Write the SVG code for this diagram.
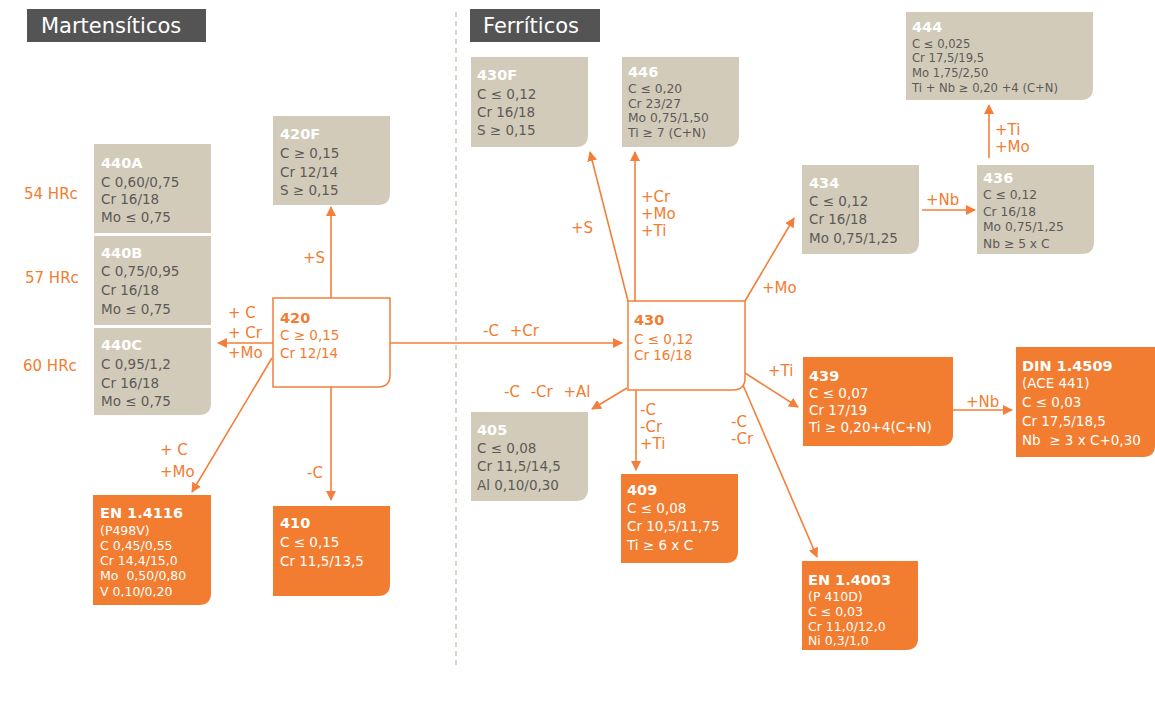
<svg xmlns="http://www.w3.org/2000/svg" width="1155" height="703" viewBox="0 0 1155 703">
<style>
text{font-family:"DejaVu Sans","Liberation Sans",sans-serif}
.hdr{fill:#545454}
.hdrt{fill:#ffffff;font-size:21px}
.bg{fill:#d3cbba}
.or{fill:#f27c30}
.wb{fill:#ffffff;stroke:#f47f3a;stroke-width:1.5}
.tg{fill:#ffffff;font-size:14.5px;font-weight:bold}
.bt{fill:#5c5a58;font-size:13.5px}
.bs{fill:#5c5a58;font-size:12.3px}
.bx{fill:#5c5a58;font-size:11.6px}
.ow{fill:#ffffff;font-size:13.5px}
.ows{fill:#ffffff;font-size:12.5px}
.ot{fill:#f27c30;font-size:14.5px;font-weight:bold}
.obt{fill:#f27c30;font-size:13.5px}
.lbl{fill:#f27c30;font-size:15px}
.cn line{stroke:#f47f3a;stroke-width:1.6;fill:none}
.arr{marker-end:url(#ah)}
</style>
<defs>
<marker id="ah" viewBox="0 0 10 10" refX="9" refY="5" markerWidth="10" markerHeight="10" markerUnits="userSpaceOnUse" orient="auto">
<path d="M0,0 L10,5 L0,10 Z" fill="#f47f3a"/>
</marker>
</defs>
<rect width="1155" height="703" fill="#ffffff"/>

<g id="titles">
<rect class="hdr" x="27" y="9" width="179" height="33"/>
<text class="hdrt" x="41" y="33">Martensíticos</text>
<rect class="hdr" x="470" y="9" width="130" height="33"/>
<text class="hdrt" x="483" y="33">Ferríticos</text>
</g>
<line x1="456" y1="12" x2="456" y2="668" stroke="#c8bfb2" stroke-width="1.3" stroke-dasharray="5,4"/>

<g id="hrc">
<text class="lbl" x="24" y="199">54 HRc</text>
<text class="lbl" x="25" y="283">57 HRc</text>
<text class="lbl" x="23" y="371">60 HRc</text>
</g>

<g class="cn" id="connectors">
<line class="arr" x1="331" y1="298" x2="331" y2="207"/>
<line class="arr" x1="273" y1="343" x2="218" y2="343"/>
<line class="arr" x1="272" y1="358" x2="192" y2="492"/>
<line class="arr" x1="331" y1="387" x2="331" y2="500"/>
<line class="arr" x1="390" y1="343" x2="622" y2="343"/>
<line class="arr" x1="628" y1="301" x2="590" y2="152"/>
<line class="arr" x1="635" y1="301" x2="635" y2="152"/>
<line class="arr" x1="745" y1="301" x2="794" y2="218"/>
<line class="arr" x1="922" y1="210" x2="975" y2="210"/>
<line class="arr" x1="989" y1="158" x2="989" y2="105"/>
<line class="arr" x1="627" y1="388" x2="592" y2="409"/>
<line class="arr" x1="636" y1="390" x2="636" y2="470"/>
<line class="arr" x1="745" y1="373" x2="798" y2="407"/>
<line class="arr" x1="743" y1="385" x2="817" y2="557"/>
<line class="arr" x1="953" y1="410" x2="1012" y2="410"/>
</g>

<g id="conn-labels">
<text class="lbl" x="303" y="263">+S</text>
<text class="lbl" x="228" y="318">+ C</text>
<text class="lbl" x="228" y="338">+ Cr</text>
<text class="lbl" x="228" y="358">+Mo</text>
<text class="lbl" x="160" y="455">+ C</text>
<text class="lbl" x="160" y="477">+Mo</text>
<text class="lbl" x="307" y="478">-C</text>
<text class="lbl" x="483" y="336" word-spacing="6">-C +Cr</text>
<text class="lbl" x="571" y="233">+S</text>
<text class="lbl" x="641" y="202">+Cr</text>
<text class="lbl" x="641" y="219">+Mo</text>
<text class="lbl" x="641" y="236">+Ti</text>
<text class="lbl" x="762" y="293">+Mo</text>
<text class="lbl" x="926" y="205">+Nb</text>
<text class="lbl" x="995" y="135">+Ti</text>
<text class="lbl" x="995" y="152">+Mo</text>
<text class="lbl" x="504" y="397" word-spacing="6">-C -Cr +Al</text>
<text class="lbl" x="640" y="415">-C</text>
<text class="lbl" x="640" y="432">-Cr</text>
<text class="lbl" x="640" y="449">+Ti</text>
<text class="lbl" x="768" y="376">+Ti</text>
<text class="lbl" x="731" y="427">-C</text>
<text class="lbl" x="731" y="444">-Cr</text>
<text class="lbl" x="966" y="407">+Nb</text>
</g>

<g id="n420F">
<path class="bg" d="M273,116 H390 V193 Q390,205 378,205 H273 Z"/>
<text class="tg" x="280" y="139">420F</text>
<text class="bt" x="280" y="158">C ≥ 0,15</text>
<text class="bt" x="280" y="177">Cr 12/14</text>
<text class="bt" x="280" y="195">S ≥ 0,15</text>
</g>

<g id="n440A">
<rect class="bg" x="94" y="144" width="117" height="89"/>
<text class="tg" x="101" y="168">440A</text>
<text class="bt" x="101" y="187">C 0,60/0,75</text>
<text class="bt" x="101" y="204">Cr 16/18</text>
<text class="bt" x="101" y="222">Mo ≤ 0,75</text>
</g>

<g id="n440B">
<rect class="bg" x="94" y="236" width="117" height="89"/>
<text class="tg" x="101" y="258">440B</text>
<text class="bt" x="101" y="276">C 0,75/0,95</text>
<text class="bt" x="101" y="295">Cr 16/18</text>
<text class="bt" x="101" y="314">Mo ≤ 0,75</text>
</g>

<g id="n440C">
<path class="bg" d="M94,328 H211 V403 Q211,415 199,415 H94 Z"/>
<text class="tg" x="101" y="350">440C</text>
<text class="bt" x="101" y="369">C 0,95/1,2</text>
<text class="bt" x="101" y="388">Cr 16/18</text>
<text class="bt" x="101" y="406">Mo ≤ 0,75</text>
</g>

<g id="n420">
<path class="wb" d="M273,298 H390 V375 Q390,387 378,387 H273 Z"/>
<text class="ot" x="280" y="323">420</text>
<text class="obt" x="280" y="340">C ≥ 0,15</text>
<text class="obt" x="280" y="358">Cr 12/14</text>
</g>

<g id="nEN14116">
<path class="or" d="M93,495 H211 V593 Q211,605 199,605 H93 Z"/>
<text class="tg" x="100" y="518">EN 1.4116</text>
<text class="ows" x="100" y="535">(P498V)</text>
<text class="ows" x="100" y="550">C 0,45/0,55</text>
<text class="ows" x="100" y="565">Cr 14,4/15,0</text>
<text class="ows" x="100" y="580">Mo&#160; 0,50/0,80</text>
<text class="ows" x="100" y="596">V 0,10/0,20</text>
</g>

<g id="n410">
<path class="or" d="M273,506 H390 V584 Q390,596 378,596 H273 Z"/>
<text class="tg" x="280" y="528">410</text>
<text class="ow" x="280" y="547">C ≤ 0,15</text>
<text class="ow" x="280" y="566">Cr 11,5/13,5</text>
</g>

<g id="n430F">
<path class="bg" d="M471,57 H588 V135 Q588,147 576,147 H471 Z"/>
<text class="tg" x="477" y="80">430F</text>
<text class="bt" x="477" y="99">C ≤ 0,12</text>
<text class="bt" x="477" y="117">Cr 16/18</text>
<text class="bt" x="477" y="135">S ≥ 0,15</text>
</g>

<g id="n446">
<path class="bg" d="M622,57 H739 V135 Q739,147 727,147 H622 Z"/>
<text class="tg" x="628" y="77">446</text>
<text class="bs" x="628" y="93">C ≤ 0,20</text>
<text class="bs" x="628" y="108">Cr 23/27</text>
<text class="bs" x="628" y="122">Mo 0,75/1,50</text>
<text class="bs" x="628" y="137">Ti ≥ 7 (C+N)</text>
</g>

<g id="n444">
<path class="bg" d="M906,12 H1093 V88 Q1093,100 1081,100 H906 Z"/>
<text class="tg" x="912" y="32">444</text>
<text class="bx" x="912" y="48">C ≤ 0,025</text>
<text class="bx" x="912" y="62">Cr 17,5/19,5</text>
<text class="bx" x="912" y="77">Mo 1,75/2,50</text>
<text class="bx" x="912" y="92">Ti + Nb ≥ 0,20 +4 (C+N)</text>
</g>

<g id="n434">
<path class="bg" d="M802,165 H919 V242 Q919,254 907,254 H802 Z"/>
<text class="tg" x="809" y="188">434</text>
<text class="bt" x="809" y="206">C ≤ 0,12</text>
<text class="bt" x="809" y="224">Cr 16/18</text>
<text class="bt" x="809" y="243">Mo 0,75/1,25</text>
</g>

<g id="n436">
<path class="bg" d="M977,165 H1094 V242 Q1094,254 1082,254 H977 Z"/>
<text class="tg" x="983" y="183">436</text>
<text class="bs" x="983" y="199">C ≤ 0,12</text>
<text class="bs" x="983" y="216">Cr 16/18</text>
<text class="bs" x="983" y="231">Mo 0,75/1,25</text>
<text class="bs" x="983" y="248">Nb ≥ 5 x C</text>
</g>

<g id="n430">
<path class="wb" d="M628,301 H745 V378 Q745,390 733,390 H628 Z"/>
<text class="ot" x="634" y="325">430</text>
<text class="obt" x="634" y="344">C ≤ 0,12</text>
<text class="obt" x="634" y="360">Cr 16/18</text>
</g>

<g id="n405">
<path class="bg" d="M471,412 H588 V489 Q588,501 576,501 H471 Z"/>
<text class="tg" x="477" y="435">405</text>
<text class="bt" x="477" y="453">C ≤ 0,08</text>
<text class="bt" x="477" y="471">Cr 11,5/14,5</text>
<text class="bt" x="477" y="490">Al 0,10/0,30</text>
</g>

<g id="n409">
<path class="or" d="M621,474 H738 V551 Q738,563 726,563 H621 Z"/>
<text class="tg" x="627" y="495">409</text>
<text class="ow" x="627" y="513">C ≤ 0,08</text>
<text class="ow" x="627" y="531">Cr 10,5/11,75</text>
<text class="ow" x="627" y="550">Ti ≥ 6 x C</text>
</g>

<g id="n439">
<path class="or" d="M803,357 H953 V434 Q953,446 941,446 H803 Z"/>
<text class="tg" x="809" y="381">439</text>
<text class="ow" x="809" y="398">C ≤ 0,07</text>
<text class="ow" x="809" y="415">Cr 17/19</text>
<text class="ow" x="809" y="432">Ti ≥ 0,20+4(C+N)</text>
</g>

<g id="nDIN14509">
<path class="or" d="M1016,347 H1155 V445 Q1155,457 1143,457 H1016 Z"/>
<text class="tg" x="1022" y="371">DIN 1.4509</text>
<text class="ow" x="1022" y="388">(ACE 441)</text>
<text class="ow" x="1022" y="407">C ≤ 0,03</text>
<text class="ow" x="1022" y="426">Cr 17,5/18,5</text>
<text class="ow" x="1022" y="445">Nb&#160; ≥ 3 x C+0,30</text>
</g>

<g id="nEN14003">
<path class="or" d="M802,561 H918 V638 Q918,650 906,650 H802 Z"/>
<text class="tg" x="808" y="585">EN 1.4003</text>
<text class="ows" x="808" y="601">(P 410D)</text>
<text class="ows" x="808" y="616">C ≤ 0,03</text>
<text class="ows" x="808" y="631">Cr 11,0/12,0</text>
<text class="ows" x="808" y="645">Ni 0,3/1,0</text>
</g>
</svg>
